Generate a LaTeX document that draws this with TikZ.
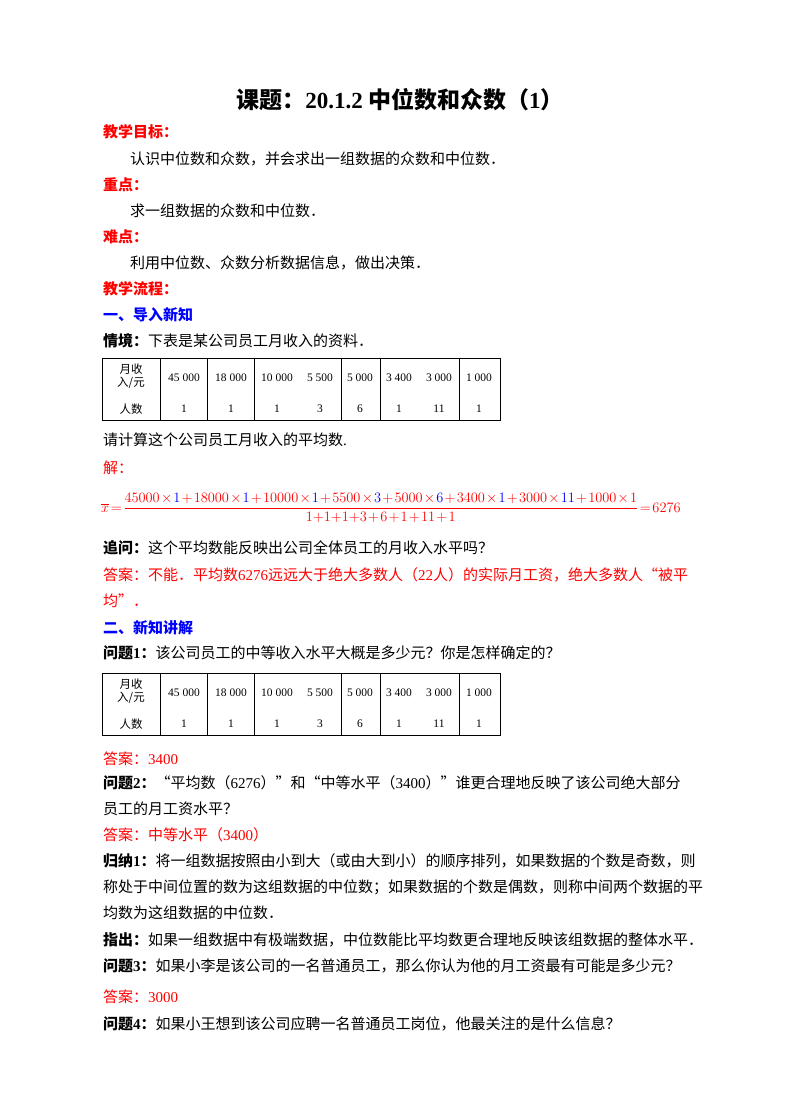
\documentclass[tikz,border=0pt]{standalone}
\usepackage{fontspec}
\setmainfont{Noto Sans CJK SC}
\newfontfamily\tm{Liberation Serif}
\begin{document}
\begin{tikzpicture}[x=1pt,y=-1pt,
  t/.style={anchor=west,inner sep=0pt,font=\fontsize{15}{17}\selectfont},
  hd/.style={anchor=west,inner sep=0pt,font=\fontsize{15}{17}\selectfont\bfseries},
  cell/.style={inner sep=0pt,font=\fontsize{11.5}{13}\selectfont\tm}]
\definecolor{myred}{RGB}{255,0,0}
\definecolor{myblue}{RGB}{0,0,255}
\useasboundingbox (0,0) rectangle (800,1109);
\node[font=\fontsize{23}{26}\selectfont\bfseries] (title) at (400,100) {课题：{\tm 20.1.2} 中位数和众数（{\tm 1}）};
\node[hd,text=myred] (h1) at (103,132) {教学目标：};
\node[t] (l1) at (130,159) {认识中位数和众数，并会求出一组数据的众数和中位数．};
\node[hd,text=myred] (h2) at (103,185) {重点：};
\node[t] (l2) at (130,211) {求一组数据的众数和中位数．};
\node[hd,text=myred] (h3) at (103,237) {难点：};
\node[t] (l3) at (130,263) {利用中位数、众数分析数据信息，做出决策．};
\node[hd,text=myred] (h4) at (103,289) {教学流程：};
\node[hd,text=myblue] (s1) at (103,315) {一、导入新知};
\node[t] (l4) at (103,341) {\textbf{情境：}下表是某公司员工月收入的资料．};
\foreach \ty/\nm in {358/A,673/B}{
  \begin{scope}[yshift=-\ty pt]
  \draw[line width=1pt] (102,0) rectangle (500,62);
  \foreach \xx in {160,207,254,341,380,459} \draw[line width=0.6pt] (\xx,0) -- (\xx,62);
  \node[cell,font=\fontsize{11.5}{13}\selectfont] (\nm lab1) at (131,11) {月收};
  \node[cell,font=\fontsize{11.5}{13}\selectfont] (\nm lab2) at (131,25) {入/元};
  \node[cell,font=\fontsize{11.5}{13}\selectfont] (\nm lab3) at (131,51) {人数};
  \foreach \xx/\va/\vb [count=\i] in {184/45 000/1,231/18 000/1,277/10 000/1,320/5 500/3,360/5 000/6,399/3 400/1,439/3 000/11,479/1 000/1}{
    \node[cell] (\nm a\i) at (\xx,20) {\va};
    \node[cell] (\nm b\i) at (\xx,51) {\vb};}
  \end{scope}}
\node[t] (l5) at (103,440) {请计算这个公司员工月收入的平均数{\tm .}};
\node[t,text=myred] (l6) at (103,468) {解：};
\node[anchor=west,inner sep=0pt,text=myred,font=\fontsize{15.8}{18}\selectfont] (f) at (101,508)
 {\medmuskip=1.5mu\thickmuskip=2mu $\displaystyle\overline{x}=\frac{45000\times\textcolor{myblue}{1}+18000\times\textcolor{myblue}{1}+10000\times\textcolor{myblue}{1}+5500\times\textcolor{myblue}{3}+5000\times\textcolor{myblue}{6}+3400\times\textcolor{myblue}{1}+3000\times\textcolor{myblue}{11}+1000\times1}{1{+}1{+}1{+}3+6+1+11+1}=6276$};
\node[t] (l7) at (103,548) {\textbf{追问：}这个平均数能反映出公司全体员工的月收入水平吗？};
\node[t,text=myred] (l8) at (103,575) {答案：不能．平均数{\tm 6276}远远大于绝大多数人（{\tm 22}人）的实际月工资，绝大多数人“被平};
\node[t,text=myred] (l9) at (103,601) {均”．};
\node[hd,text=myblue] (s2) at (103,628) {二、新知讲解};
\node[t] (l10) at (103,653) {\textbf{问题{\tm 1}：}该公司员工的中等收入水平大概是多少元？你是怎样确定的？};
\node[t,text=myred] (l11) at (103,759) {答案：{\tm 3400}};
\node[t] (l12) at (103,783) {\textbf{问题{\tm 2}：}“平均数（{\tm 6276}）”和“中等水平（{\tm 3400}）”谁更合理地反映了该公司绝大部分};
\node[t] (l13) at (103,809) {员工的月工资水平？};
\node[t,text=myred] (l14) at (103,835) {答案：中等水平（{\tm 3400}）};
\node[t] (l15) at (103,861) {\textbf{归纳{\tm 1}：}将一组数据按照由小到大（或由大到小）的顺序排列，如果数据的个数是奇数，则};
\node[t] (l16) at (103,887) {称处于中间位置的数为这组数据的中位数；如果数据的个数是偶数，则称中间两个数据的平};
\node[t] (l17) at (103,913) {均数为这组数据的中位数．};
\node[t] (l18) at (103,940) {\textbf{指出：}如果一组数据中有极端数据，中位数能比平均数更合理地反映该组数据的整体水平．};
\node[t] (l19) at (103,966) {\textbf{问题{\tm 3}：}如果小李是该公司的一名普通员工，那么你认为他的月工资最有可能是多少元？};
\node[t,text=myred] (l20) at (103,997) {答案：{\tm 3000}};
\node[t] (l21) at (103,1024) {\textbf{问题{\tm 4}：}如果小王想到该公司应聘一名普通员工岗位，他最关注的是什么信息？};
\end{tikzpicture}
\end{document}
